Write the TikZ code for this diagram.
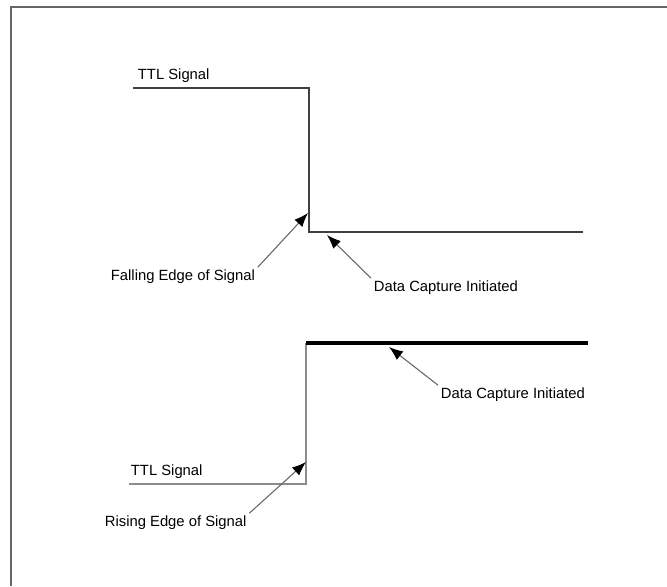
\documentclass[tikz,border=0pt]{standalone}
\usepackage{fontspec}
\setmainfont{Liberation Sans}
\usetikzlibrary{arrows.meta}

\tikzset{
  label text/.style={anchor=west, inner sep=2pt, font=\fontsize{11.1pt}{13pt}\selectfont},
  pointer/.style={draw=black!60, line width=0.8pt, -{Latex[black, length=10.5pt, width=8pt]}},
}

\begin{document}
\begin{tikzpicture}[x=0.75pt, y=-0.75pt]
	\useasboundingbox (0, 0) rectangle (667, 586);
	% frame
	\draw[black!60, line width=1.6pt] (11, 586) -- (11, 7) -- (667, 7);
	% falling edge
	\coordinate (fa) at (133, 88);
	\coordinate (fb) at (309, 88);
	\coordinate (fc) at (309, 232);
	\coordinate (fd) at (583, 232);
	\draw[black!75, line width=1pt] (fa) -- (fb) -- (fc) -- (fd);
	\node[label text] (ttla) at (135, 76) {TTL Signal};
	\node[label text] (fall) at (108, 277) {Falling Edge of Signal};
	\node[label text] (capa) at (371, 288) {Data Capture Initiated};
	\coordinate (falltip) at (308, 213);
	\coordinate (capatip) at (327, 235);
	\draw[pointer] (fall.north east) -- (falltip);
	\draw[pointer] (capa.north west) -- (capatip);
	% rising edge
	\coordinate (ra) at (129, 484);
	\coordinate (rb) at (306, 484);
	\coordinate (rc) at (306, 343);
	\coordinate (rd) at (588, 343);
	\draw[black!45, line width=1.2pt] (ra) -- (rb) -- (rc);
	\draw[black, line width=3pt] (rc) -- (rd);
	\node[label text] (ttlb) at (128, 472) {TTL Signal};
	\node[label text] (rise) at (102, 523) {Rising Edge of Signal};
	\node[label text] (capb) at (438, 395) {Data Capture Initiated};
	\coordinate (risetip) at (306, 462);
	\coordinate (capbtip) at (389, 347);
	\draw[pointer] (rise.north east) -- (risetip);
	\draw[pointer] (capb.north west) -- (capbtip);
\end{tikzpicture}
\end{document}
